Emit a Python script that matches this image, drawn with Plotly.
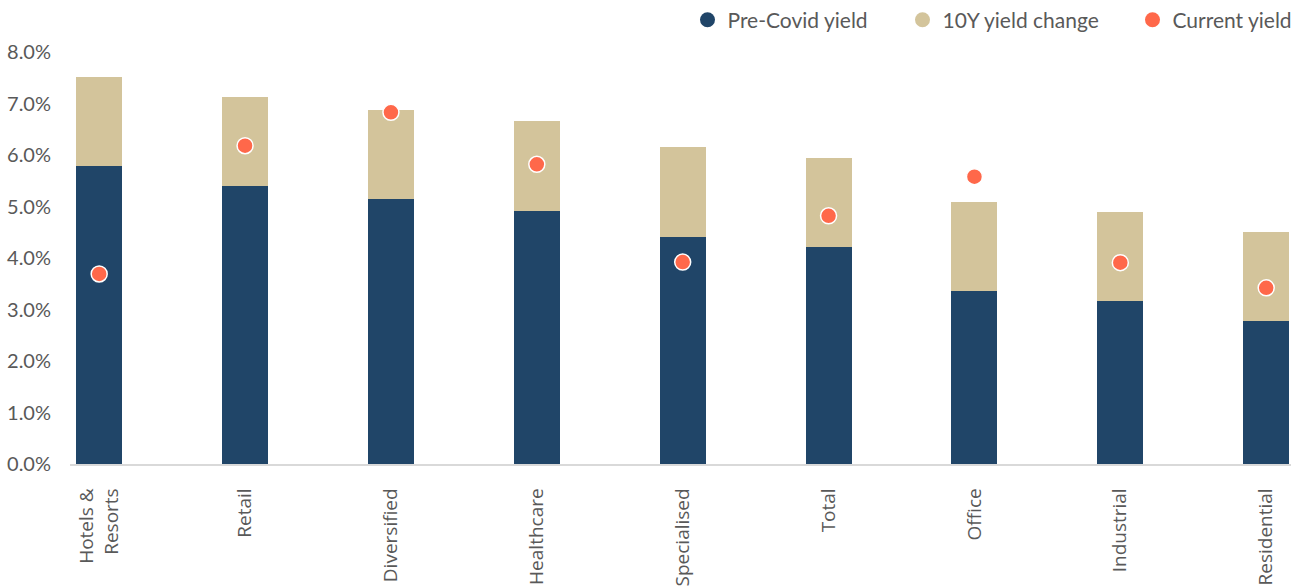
import plotly.graph_objects as go

# Sector yields (%)
sectors = ["Hotels &<br>Resorts", "Retail", "Diversified", "Healthcare", "Specialised",
           "Total", "Office", "Industrial", "Residential"]
pre_covid_yield = [5.78, 5.39, 5.14, 4.91, 4.41, 4.21, 3.35, 3.16, 2.77]
yield_change_10y = [1.74, 1.74, 1.73, 1.75, 1.74, 1.73, 1.74, 1.74, 1.74]
current_yield = [3.69, 6.18, 6.83, 5.82, 3.92, 4.82, 5.58, 3.91, 3.42]

NAVY = "#204568"
TAN = "#D3C49B"
CORAL = "#FF684A"
GREY_TXT = "#595959"
FONT = "Lato"

x_idx = list(range(len(sectors)))

fig = go.Figure()

fig.add_trace(go.Bar(
    x=x_idx, y=pre_covid_yield, name="Pre-Covid yield",
    marker=dict(color=NAVY, line=dict(width=0)), width=0.315, showlegend=False,
))
fig.add_trace(go.Bar(
    x=x_idx, y=yield_change_10y, name="10Y yield change",
    marker=dict(color=TAN, line=dict(width=0)), width=0.315, showlegend=False,
))
fig.add_trace(go.Scatter(
    x=x_idx, y=current_yield, name="Current yield", mode="markers",
    marker=dict(color=CORAL, size=16, line=dict(color="white", width=1.5)),
    showlegend=False,
))

# Round legend swatches, one legend box per series so each can be placed freely
legend_items = [("Pre-Covid yield", NAVY, "legend"),
                ("10Y yield change", TAN, "legend2"),
                ("Current yield", CORAL, "legend3")]
for name, color, lg in legend_items:
    fig.add_trace(go.Scatter(
        x=[None], y=[None], mode="markers", name=name, legend=lg,
        marker=dict(color=color, size=15, symbol="circle"),
    ))

PLOT_L, PLOT_R, PLOT_T, PLOT_B = 70, 1291, 52, 464.5
W, H = 1306, 588
pw = PLOT_R - PLOT_L
ph = PLOT_B - PLOT_T


def lx(px):
    return (px - PLOT_L) / pw


legend_y = 1 + (PLOT_T - 20) / ph
legend_common = dict(
    orientation="h", xanchor="left", yanchor="middle", y=legend_y,
    font=dict(family=FONT, size=21, color=GREY_TXT),
    itemwidth=30, bgcolor="rgba(0,0,0,0)", borderwidth=0,
)

fig.update_layout(
    width=W, height=H,
    barmode="stack",
    plot_bgcolor="white", paper_bgcolor="white",
    margin=dict(l=PLOT_L, r=W - PLOT_R, t=PLOT_T, b=H - PLOT_B, autoexpand=False),
    font=dict(family=FONT, color=GREY_TXT, size=20),
    legend=dict(x=lx(687.5), **legend_common),
    legend2=dict(x=lx(902.5), **legend_common),
    legend3=dict(x=lx(1132.5), **legend_common),
    xaxis=dict(
        range=[-0.2, 8.17],
        tickmode="array", tickvals=x_idx, ticktext=sectors,
        tickangle=-90,
        tickfont=dict(family="Open Sans", size=19, color=GREY_TXT),
        showgrid=False, zeroline=False,
        showline=True, linecolor="#D9D9D9", linewidth=1.5,
        ticks="", ticklabelstandoff=15,
    ),
    yaxis=dict(
        range=[0, 8], dtick=1, tickformat=".1f", ticksuffix="%",
        tickfont=dict(family=FONT, size=20, color=GREY_TXT),
        showgrid=False, zeroline=False, showline=False,
        ticks="", ticklabelstandoff=18,
    ),
)

fig.write_html("out.html")
